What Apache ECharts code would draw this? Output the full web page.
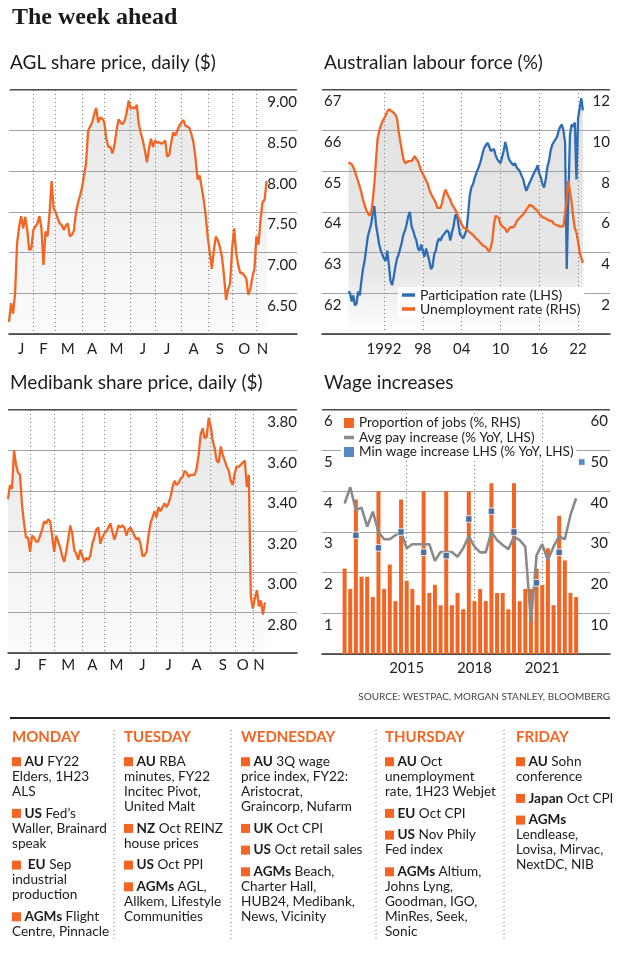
<!DOCTYPE html>
<html>
<head>
<meta charset="utf-8">
<script src="https://cdn.jsdelivr.net/npm/echarts@6/dist/echarts.min.js"></script>
<style>
html,body{margin:0;padding:0;background:#fff;}
#chart{width:620px;height:956px;}
</style>
</head>
<body>
<div id="chart"></div>
<script>
// ================= DATA =================
// Month letters for the two daily share-price charts
const monthLetters = ['J','F','M','A','M','J','J','A','S','O','N'];

// AGL share price ($), sampled roughly every 2 trading days, per month
const aglJan = [6.15, 6.38, 6.25, 6.5, 7.12, 7.32, 7.45, 7.30, 7.44, 7.28, 7.03, 7.05];
const aglFeb = [7.28, 7.32, 7.36, 7.45, 7.3, 6.85, 7.26, 7.2, 7.49, 7.88, 7.55];
const aglMar = [7.5, 7.42, 7.36, 7.34, 7.28, 7.33, 7.36, 7.2, 7.22, 7.27, 7.49, 7.61, 7.7];
const aglApr = [7.8, 7.95, 8.1, 8.5, 8.55, 8.6, 8.7, 8.78, 8.6, 8.66, 8.65];
const aglMay = [8.6, 8.4, 8.3, 8.3, 8.22, 8.32, 8.5, 8.64, 8.6, 8.58, 8.62, 8.72, 8.87];
const aglJun = [8.77, 8.79, 8.77, 8.82, 8.58, 8.47, 8.38, 8.26, 8.11, 8.28, 8.4, 8.3];
const aglJul = [8.38, 8.35, 8.36, 8.34, 8.35, 8.38, 8.18, 8.2, 8.36, 8.48, 8.44, 8.5, 8.56];
const aglAug = [8.6, 8.63, 8.56, 8.55, 8.53, 8.45, 8.35, 8.15, 7.9, 7.95, 7.8, 7.65, 7.45];
const aglSep = [7.19, 7.0, 6.8, 7.03, 7.2, 7.15, 7.07, 6.95, 6.72, 6.42, 6.55, 6.62];
const aglOct = [7.05, 7.3, 7.0, 6.85, 6.75, 6.75, 6.72, 6.68, 6.48, 6.55, 6.7, 6.8];
const aglNov = [7.2, 7.1, 7.4, 7.62, 7.65, 7.88];

// Medibank share price ($), sampled roughly every 2 trading days, per month
const mpJan = [3.36, 3.43, 3.41, 3.6, 3.53, 3.49, 3.48, 3.33, 3.24, 3.17, 3.17];
const mpFeb = [3.10, 3.18, 3.17, 3.15, 3.15, 3.18, 3.21, 3.25, 3.24, 3.26, 3.25, 3.18];
const mpMar = [3.1, 3.18, 3.15, 3.12, 3.08, 3.05, 3.1, 3.16, 3.23, 3.19, 3.11, 3.09, 3.06, 3.11];
const mpApr = [3.08, 3.05, 3.07, 3.06, 3.08, 3.14, 3.17, 3.21, 3.22, 3.14, 3.17];
const mpMay = [3.19, 3.2, 3.22, 3.24, 3.2, 3.16, 3.19, 3.23, 3.22, 3.23, 3.22, 3.18, 3.21];
const mpJun = [3.22, 3.2, 3.18, 3.16, 3.17, 3.14, 3.08, 3.08, 3.1, 3.18, 3.24, 3.27, 3.3];
const mpJul = [3.27, 3.32, 3.3, 3.32, 3.34, 3.32, 3.34, 3.37, 3.42, 3.45, 3.43, 3.44, 3.46];
const mpAug = [3.47, 3.5, 3.49, 3.47, 3.48, 3.48, 3.48, 3.51, 3.58, 3.68, 3.71, 3.66, 3.67, 3.76];
const mpSep = [3.72, 3.65, 3.61, 3.55, 3.54, 3.62, 3.58, 3.55, 3.52, 3.5, 3.45, 3.43];
const mpOct = [3.49, 3.52, 3.52, 3.53, 3.54, 3.55, 3.42, 3.48, 2.88];
const mpNov = [2.82, 2.87, 2.91, 2.83, 2.86, 2.79, 2.85];

// Australian labour force, quarterly from 1986 Q3 (x = decimal year)
const labourStartYear = 1986.5;
const labourTickYears = [1992, 1998, 2004, 2010, 2016, 2022];
const labourTickLabels = ['1992', '98', '04', '10', '16', '22'];
const participation = [
  62.05, 62.0,
  61.8, 61.95, 61.7, 61.75,
  62.05, 61.95, 62.3, 62.6,
  62.8, 63.1, 63.4, 63.55,
  63.7, 63.95, 64.15, 63.7,
  63.45, 63.2, 63.05, 62.95,
  62.85, 62.8, 63.05, 62.7,
  62.3, 62.2, 62.4, 62.65,
  62.85, 62.95, 63.1, 63.25,
  63.45, 63.55, 63.7, 63.9,
  64.0, 63.65, 63.55, 63.4,
  63.3, 63.1, 63.05, 63.2,
  63.05, 62.9, 63.1, 62.95,
  62.8, 62.6, 62.65, 62.95,
  63.05, 63.25, 63.35, 63.3,
  63.4, 63.45, 63.45, 63.55,
  63.5, 63.3, 63.5, 63.65,
  63.9, 63.95, 63.7, 63.45,
  63.4, 63.35, 63.45, 63.55,
  63.95, 64.4, 64.6, 64.68,
  64.82, 64.95, 65.05, 65.15,
  65.28, 65.45, 65.58, 65.62,
  65.7, 65.62, 65.5, 65.52,
  65.55, 65.4, 65.3, 65.25,
  65.2, 65.35, 65.5, 65.72,
  65.55, 65.33, 65.25, 65.25,
  65.15, 65.2, 65.1, 65.08,
  65.0, 64.9, 64.82, 64.65,
  64.52, 64.62, 64.72, 64.8,
  64.9, 64.98, 65.05, 65.15,
  64.95, 64.85, 64.68, 64.6,
  64.8, 65.1, 65.25, 65.5,
  65.65, 65.72, 65.7, 65.85,
  66.0, 66.1, 66.15, 66.0,
  65.7, 62.6, 64.3, 65.9,
  66.15, 66.1, 66.2, 64.8,
  66.3, 66.55, 66.8, 66.5
];
const unemployment = [
  8.45, 8.4,
  8.35, 8.2, 8.0, 7.75,
  7.5, 7.25, 6.95, 6.6,
  6.35, 6.1, 5.95, 5.82,
  5.95, 6.55, 7.37, 8.5,
  9.6, 9.97, 10.25, 10.45,
  10.6, 10.75, 10.95, 11.05,
  11.05, 10.95, 10.9, 10.8,
  10.6, 10.0, 9.5, 9.05,
  8.6, 8.4, 8.45, 8.5,
  8.45, 8.5, 8.58, 8.75,
  8.6, 8.5, 8.26, 8.02,
  8.0, 7.72, 7.55, 7.4,
  7.1, 6.9, 6.75, 6.6,
  6.45, 6.2, 6.15, 6.2,
  6.5, 6.85, 7.1, 7.05,
  6.75, 6.6, 6.38, 6.25,
  6.12, 5.98, 5.74, 5.58,
  5.41, 5.25, 5.17, 5.15,
  5.1, 5.0, 4.95, 4.88,
  4.78, 4.72, 4.62, 4.55,
  4.45, 4.35, 4.35, 4.28,
  4.15, 4.05, 4.25, 4.6,
  5.4, 5.82, 5.8, 5.7,
  5.4, 5.3, 5.25, 5.18,
  5.0, 5.08, 5.25, 5.17,
  5.25, 5.35, 5.55, 5.62,
  5.72, 5.78, 5.87, 5.95,
  6.12, 6.2, 6.35, 6.3,
  6.28, 6.18, 6.12, 6.05,
  5.9, 5.82, 5.75, 5.8,
  5.68, 5.66, 5.58, 5.5,
  5.55, 5.42, 5.4, 5.35,
  5.28, 5.28, 5.25, 5.3,
  5.25, 6.6, 7.55, 7.0,
  6.5, 5.74, 5.2, 5.0,
  4.55, 4.0, 3.75, 3.5
];

// Wage increases, quarterly from 2012 Q2
const wageFirstYear = 2012, wageFirstQuarter = 2, wageQuarterCount = 43;
const wageLabelQuarters = ['2015Q1', '2018Q1', '2021Q1'];
const jobsShare = [21,16,38,19,19,14,40,16,22,13,38,18,16,12,40,15,17,12,40,12,15,11,40,13,16,13,42,15,15,11,42,13,16,16,21,17,26,12,34,23,15,14];
const avgPay = [3.70,4.10,3.54,3.60,3.13,3.50,3.0,2.82,2.82,2.92,3.0,2.60,2.70,2.70,2.70,2.70,2.29,2.51,2.51,2.51,2.39,2.60,2.90,2.64,2.50,2.50,3.0,2.80,2.68,2.58,2.88,2.80,2.64,0.79,2.43,2.70,2.31,2.64,2.90,2.82,3.42,3.83];
const minWageQuarters = ['2012Q4','2013Q4','2014Q4','2015Q4','2016Q4','2017Q4','2018Q4','2019Q4','2020Q4','2021Q4','2022Q4'];
const minWageValues = [2.92, 2.61, 3.0, 2.5, 2.42, 3.32, 3.51, 3.0, 1.75, 2.5, 4.72];

// Week-ahead table
const dayHeads = ['MONDAY', 'TUESDAY', 'WEDNESDAY', 'THURSDAY', 'FRIDAY'];
const monItems = [['AU', 'FY22\nElders, 1H23\nALS'], ['US', 'Fed\u2019s\nWaller, Brainard\nspeak'], [' EU', 'Sep\nindustrial\nproduction'], ['AGMs', 'Flight\nCentre, Pinnacle']];
const tueItems = [['AU', 'RBA\nminutes, FY22\nIncitec Pivot,\nUnited Malt'], ['NZ', 'Oct REINZ\nhouse prices'], ['US', 'Oct PPI'], ['AGMs', 'AGL,\nAllkem, Lifestyle\nCommunities']];
const wedItems = [['AU', '3Q wage\nprice index, FY22:\nAristocrat,\nGraincorp, Nufarm'], ['UK', 'Oct CPI'], ['US', 'Oct retail sales'], ['AGMs', 'Beach,\nCharter Hall,\nHUB24, Medibank,\nNews, Vicinity']];
const thuItems = [['AU', 'Oct\nunemployment\nrate, 1H23 Webjet'], ['EU', 'Oct CPI'], ['US', 'Nov Phily\nFed index'], ['AGMs', 'Altium,\nJohns Lyng,\nGoodman, IGO,\nMinRes, Seek,\nSonic']];
const friItems = [['AU', 'Sohn\nconference'], ['Japan', 'Oct CPI'], ['AGMs', '\nLendlease,\nLovisa, Mirvac,\nNextDC, NIB']];

// ================= STYLE =================
const FONT = 'Lato';
const ORANGE = '#f26522';
const BLUE = '#2d6db5';
const GREYLINE = '#8a8a8a';
const GRID = '#a3a3a3';
const AXIS = '#333';
const DOT = [1, 3];
const LABEL = '#222';

// ================= BUILD =================
function buildDaily(months, padCount, prefix) {
  const cats = [], labelOf = {}, starts = new Set(), values = [];
  months.forEach((arr, m) => {
    const mid = Math.floor(arr.length / 2);
    arr.forEach((v, j) => {
      const name = prefix + m + '_' + j;
      if (j === 0 && m > 0) starts.add(name);
      cats.push(name);
      labelOf[name] = j === mid ? monthLetters[m] : '';
      values.push(v);
    });
  });
  for (let k = 0; k < padCount; k++) { const n = prefix + 'pad' + k; cats.push(n); labelOf[n] = ''; }
  return { cats, labelOf, starts, values };
}
const agl = buildDaily([aglJan, aglFeb, aglMar, aglApr, aglMay, aglJun, aglJul, aglAug, aglSep, aglOct, aglNov], 15, 'a');
const mp = buildDaily([mpJan, mpFeb, mpMar, mpApr, mpMay, mpJun, mpJul, mpAug, mpSep, mpOct, mpNov], 16, 'm');

const partData = participation.map((v, i) => [labourStartYear + i * 0.25, v]);
const unempData = unemployment.map((v, i) => [labourStartYear + i * 0.25, v]);

// wage categories (with padding either side so the plot spans the panel)
const wageCats = [];
const wagePadLeft = 4, wagePadRight = 5;
for (let k = 0; k < wagePadLeft; k++) wageCats.push('L' + k);
const wageQuarterNames = [];
for (let i = 0; i < wageQuarterCount; i++) {
  const q0 = wageFirstQuarter - 1 + i;
  wageQuarterNames.push((wageFirstYear + Math.floor(q0 / 4)) + 'Q' + (q0 % 4 + 1));
}
wageCats.push(...wageQuarterNames);
for (let k = 0; k < wagePadRight; k++) wageCats.push('R' + k);
const jobsData = wageCats.map(c => { const i = wageQuarterNames.indexOf(c); return i >= 0 && i < jobsShare.length ? jobsShare[i] : null; });
const avgData = wageCats.map(c => { const i = wageQuarterNames.indexOf(c); return i >= 0 && i < avgPay.length ? avgPay[i] : null; });
const minData = minWageQuarters.map((q, i) => [wageCats.indexOf(q), minWageValues[i]]);
const wageLabelSet = new Set(wageLabelQuarters);

function areaGradient(c0, c1, c2, stop1) {
  return { type: 'linear', x: 0, y: 0, x2: 0, y2: 1, colorStops: [
    { offset: 0, color: c0 }, { offset: stop1, color: c1 }, { offset: 1, color: c2 } ] };
}

function dailyXAxis(d, gridIndex, margin) {
  return {
    type: 'category', gridIndex, data: d.cats, boundaryGap: false, z: 1,
    axisLine: { lineStyle: { color: AXIS, width: 1.5 } },
    axisTick: { show: false },
    axisLabel: { interval: 0, margin, fontSize: 15, color: LABEL, fontFamily: FONT,
      formatter: (v) => d.labelOf[v] || '' },
    splitLine: { show: true, interval: (i, v) => d.starts.has(v),
      lineStyle: { type: DOT, color: '#777', width: 1 } }
  };
}
function priceYAxis(gridIndex, min, max, interval) {
  return {
    type: 'value', gridIndex, position: 'right', min, max, interval, z: 1,
    axisLine: { show: false }, axisTick: { show: false },
    axisLabel: { inside: true, margin: 0, verticalAlign: 'top', padding: [5, 0, 0, 0],
      showMinLabel: false, fontSize: 15, color: LABEL, fontFamily: FONT,
      formatter: (v) => v.toFixed(2) },
    splitLine: { lineStyle: { color: GRID, width: 1 } }
  };
}

// ================= GRAPHICS (text, rules) =================
const g = [];
function text(x, y, t, st) {
  g.push({ type: 'text', silent: true, style: Object.assign({ x, y, text: t, fill: '#1c1c1c',
    fontFamily: FONT, fontSize: 19, align: 'left', verticalAlign: 'middle' }, st || {}) });
}
function line(x1, y1, x2, y2, st) {
  g.push({ type: 'line', silent: true, shape: { x1, y1, x2, y2 }, style: Object.assign({ stroke: '#111', lineWidth: 1.5 }, st || {}) });
}
text(12, 18, 'The week ahead', { fontFamily: '"Liberation Serif", serif', fontWeight: 'bold', fontSize: 24, fill: '#1a1a1a' });
text(10, 63, 'AGL share price, daily ($)');
text(324, 63, 'Australian labour force (%)');
text(10, 383, 'Medibank share price, daily ($)');
text(324, 383, 'Wage increases');
line(10, 90, 297, 90);
line(322, 90, 610, 90);
line(8, 410, 297, 410);
line(322, 410, 610, 410);
text(610, 697, 'SOURCE: WESTPAC, MORGAN STANLEY, BLOOMBERG', { align: 'right', fontSize: 10, fill: '#444' });
line(10, 718, 610, 718, { lineWidth: 2.2, stroke: '#222' });
[114, 231, 376, 504].forEach(x => line(x, 730, x, 940, { lineWidth: 1, stroke: '#777', lineDash: [1, 3] }));

const colX = [12, 124, 241, 385, 516];
const colItems = [monItems, tueItems, wedItems, thuItems, friItems];
const BODY = 13.6;
const rich = {
  sq: { backgroundColor: ORANGE, width: 9, height: 9, fontSize: 9, lineHeight: 15, verticalAlign: 'middle' },
  b: { fontWeight: 'bold', fontFamily: FONT, fontSize: BODY, fill: '#1c1c1c', lineHeight: 15 },
  r: { fontFamily: FONT, fontSize: BODY, fill: '#1c1c1c', lineHeight: 15 }
};
dayHeads.forEach((h, c) => {
  text(colX[c], 737, h, { fontWeight: 'bold', fontSize: 15, fill: ORANGE });
  let yLine = 761.7;
  colItems[c].forEach(([kw, rest]) => {
    const parts = rest.split('\n');
    const body = '{sq| } {b|' + kw + '}' + (parts[0] ? ' {r|' + parts[0] + '}' : '') +
      parts.slice(1).map(p => '\n{r|' + p + '}').join('');
    g.push({ type: 'text', silent: true, style: { x: colX[c], y: yLine - 7.5, text: body, rich,
      fontFamily: FONT, fontSize: BODY, lineHeight: 15, fill: '#1c1c1c', align: 'left', verticalAlign: 'top' } });
    yLine += parts.length * 15 + 6.7;
  });
});

// ================= OPTION =================
const option = {
  animation: false,
  textStyle: { fontFamily: FONT },
  grid: [
    { left: 9, top: 90, width: 288, height: 244 },
    { left: 322, top: 90, width: 288, height: 244 },
    { left: 8, top: 410, width: 289, height: 243 },
    { left: 322, top: 410, width: 288, height: 244 }
  ],
  xAxis: [
    dailyXAxis(agl, 0, 8),
    {
      type: 'value', gridIndex: 1, min: 1982.41, max: 2026.94, z: 1,
      axisLine: { lineStyle: { color: AXIS, width: 1.5 } },
      splitLine: { show: false },
      axisTick: { show: true, customValues: labourTickYears, inside: true, length: 244,
        lineStyle: { type: DOT, color: '#777', width: 1 } },
      axisLabel: { customValues: labourTickYears, margin: 8, fontSize: 15, color: LABEL, fontFamily: FONT,
        formatter: (v) => { const i = labourTickYears.indexOf(Math.round(v)); return i >= 0 ? labourTickLabels[i] : ''; } }
    },
    dailyXAxis(mp, 2, 5),
    {
      type: 'category', gridIndex: 3, data: wageCats, boundaryGap: false, z: 1,
      axisLine: { lineStyle: { color: AXIS, width: 1.5 } },
      axisTick: { show: true, interval: (i, v) => wageLabelSet.has(v), inside: true, length: 244,
        lineStyle: { type: DOT, color: '#777', width: 1 } },
      axisLabel: { interval: (i, v) => wageLabelSet.has(v), margin: 7, fontSize: 15, color: LABEL, fontFamily: FONT,
        formatter: (v) => wageLabelSet.has(v) ? v.slice(0, 4) : '' },
      splitLine: { show: false }
    }
  ],
  yAxis: [
    priceYAxis(0, 6, 9, 0.5),
    { type: 'value', gridIndex: 1, position: 'left', min: 61, max: 67, interval: 1, z: 1,
      axisLine: { show: false }, axisTick: { show: false },
      axisLabel: { inside: true, margin: 2, verticalAlign: 'top', padding: [4, 0, 0, 0], showMinLabel: false,
        fontSize: 15, color: LABEL, fontFamily: FONT },
      splitLine: { lineStyle: { color: GRID, width: 1 } } },
    { type: 'value', gridIndex: 1, position: 'right', min: 0, max: 12, interval: 2, z: 1,
      axisLine: { show: false }, axisTick: { show: false },
      axisLabel: { inside: true, margin: 0, verticalAlign: 'top', padding: [4, 0, 0, 0], showMinLabel: false,
        fontSize: 15, color: LABEL, fontFamily: FONT },
      splitLine: { show: false } },
    priceYAxis(2, 2.6, 3.8, 0.2),
    { type: 'value', gridIndex: 3, position: 'left', min: 0, max: 6, interval: 1, z: 1,
      axisLine: { show: false }, axisTick: { show: false },
      axisLabel: { inside: true, margin: 2, verticalAlign: 'top', padding: [4, 0, 0, 0], showMinLabel: false,
        fontSize: 15, color: LABEL, fontFamily: FONT },
      splitLine: { lineStyle: { color: GRID, width: 1 } } },
    { type: 'value', gridIndex: 3, position: 'right', min: 0, max: 60, interval: 10, z: 1,
      axisLine: { show: false }, axisTick: { show: false },
      axisLabel: { inside: true, margin: 2, verticalAlign: 'top', padding: [4, 0, 0, 0], showMinLabel: false,
        fontSize: 15, color: LABEL, fontFamily: FONT },
      splitLine: { show: false } }
  ],
  legend: [
    { data: ['Participation rate (LHS)', 'Unemployment rate (RHS)'], orient: 'vertical', left: 398, top: 287,
      icon: 'rect', itemWidth: 13, itemHeight: 3.5, itemGap: 0, padding: [1, 4, 1, 4], backgroundColor: '#fff', selectedMode: false,
      textStyle: { fontSize: 14, color: LABEL, lineHeight: 14, fontFamily: FONT } },
    { data: ['Proportion of jobs (%, RHS)'], left: 341, top: 415, icon: 'rect', itemWidth: 10, itemHeight: 10,
      padding: [1, 3, 1, 3], backgroundColor: '#fff', selectedMode: false,
      textStyle: { fontSize: 13.5, color: LABEL, lineHeight: 14, fontFamily: FONT } },
    { data: ['Avg pay increase (% YoY, LHS)'], left: 341, top: 429.5, icon: 'rect', itemWidth: 10, itemHeight: 3.5,
      padding: [1, 3, 1, 3], backgroundColor: '#fff', selectedMode: false,
      textStyle: { fontSize: 13.5, color: LABEL, lineHeight: 14, fontFamily: FONT } },
    { data: ['Min wage increase LHS (% YoY, LHS)'], left: 341, top: 444, icon: 'rect', itemWidth: 10, itemHeight: 10,
      padding: [1, 3, 1, 3], backgroundColor: '#fff', selectedMode: false, itemStyle: { borderWidth: 0 },
      textStyle: { fontSize: 13.5, color: LABEL, lineHeight: 14, fontFamily: FONT } }
  ],
  series: [
    // AGL
    { type: 'line', name: 'aglArea', xAxisIndex: 0, yAxisIndex: 0, data: agl.values, symbol: 'none', z: 0,
      lineStyle: { width: 0 }, areaStyle: { color: areaGradient('#dcdcdc', '#eaeaea', '#fafafa', 0.5) }, silent: true },
    { type: 'line', name: 'AGL', xAxisIndex: 0, yAxisIndex: 0, data: agl.values, symbol: 'none', z: 3,
      lineStyle: { color: ORANGE, width: 2.3 } },
    // Labour
    { type: 'line', name: 'partArea', xAxisIndex: 1, yAxisIndex: 1, data: partData, symbol: 'none', z: 0,
      lineStyle: { width: 0 }, areaStyle: { color: areaGradient('#e3e3e3', '#e7e7e7', '#ffffff', 0.72), opacity: 1 }, silent: true },
    { type: 'line', name: 'unempArea', xAxisIndex: 1, yAxisIndex: 2, data: unempData, symbol: 'none', z: 0,
      lineStyle: { width: 0 }, areaStyle: { color: areaGradient('#e3e3e3', '#e7e7e7', '#ffffff', 0.72), opacity: 1 }, silent: true },
    { type: 'line', name: 'Participation rate (LHS)', xAxisIndex: 1, yAxisIndex: 1, data: partData, symbol: 'none', z: 3,
      lineStyle: { color: BLUE, width: 2.3 }, itemStyle: { color: BLUE } },
    { type: 'line', name: 'Unemployment rate (RHS)', xAxisIndex: 1, yAxisIndex: 2, data: unempData, symbol: 'none', z: 3,
      lineStyle: { color: ORANGE, width: 2.3 }, itemStyle: { color: ORANGE } },
    // Medibank
    { type: 'line', name: 'mpArea', xAxisIndex: 2, yAxisIndex: 3, data: mp.values, symbol: 'none', z: 0,
      lineStyle: { width: 0 }, areaStyle: { color: areaGradient('#dcdcdc', '#eaeaea', '#fafafa', 0.5) }, silent: true },
    { type: 'line', name: 'Medibank', xAxisIndex: 2, yAxisIndex: 3, data: mp.values, symbol: 'none', z: 3,
      lineStyle: { color: ORANGE, width: 2.3 } },
    // Wages
    { type: 'bar', name: 'Proportion of jobs (%, RHS)', xAxisIndex: 3, yAxisIndex: 5, data: jobsData, barWidth: 4,
      itemStyle: { color: ORANGE }, z: 2 },
    { type: 'line', name: 'Avg pay increase (% YoY, LHS)', xAxisIndex: 3, yAxisIndex: 4, data: avgData, symbol: 'none', z: 3,
      lineStyle: { color: GREYLINE, width: 2.6 }, itemStyle: { color: GREYLINE } },
    { type: 'scatter', name: 'Min wage increase LHS (% YoY, LHS)', xAxisIndex: 3, yAxisIndex: 4, data: minData,
      symbol: 'rect', symbolSize: 6.5, z: 4, itemStyle: { color: BLUE, borderColor: '#fff', borderWidth: 1 } }
  ],
  graphic: { elements: g }
};

const chart = echarts.init(document.getElementById('chart'), null, { width: 620, height: 956 });
chart.setOption(option);
</script>
</body>
</html>
